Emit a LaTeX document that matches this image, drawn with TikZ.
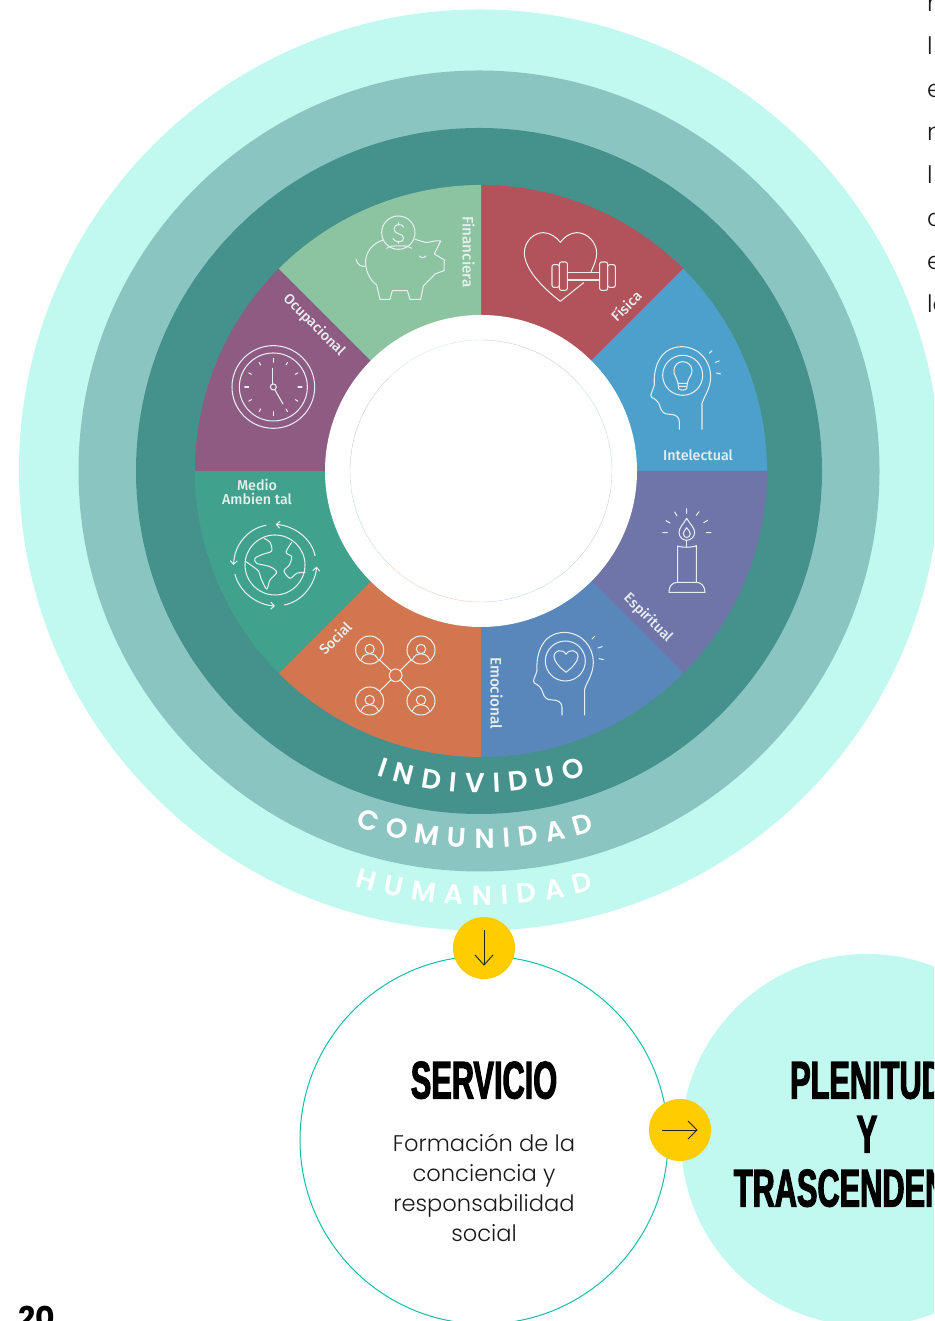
\documentclass[tikz,border=0pt]{standalone}
\usepackage{fontspec}
\usetikzlibrary{decorations.text,arrows.meta,calc}
\setmainfont{Poppins}
\newfontfamily\ringfont[UprightFont=* SemiBold]{Poppins}
\newfontfamily\lightfont[UprightFont=* Light]{Poppins}
\newfontfamily\labelfont[UprightFont=* Medium]{Fira Sans}
\newfontfamily\pagefont[UprightFont=* Bold]{Poppins}
\newfontfamily\titlefont[UprightFont=* Bold,FakeStretch=0.58,FakeBold=2]{Liberation Sans}
\definecolor{ringa}{HTML}{C1F9F0}
\definecolor{ringb}{HTML}{8BC5C2}
\definecolor{ringc}{HTML}{45918C}
\definecolor{wred}{HTML}{B2525A}
\definecolor{wblue}{HTML}{4DA0CB}
\definecolor{wviolet}{HTML}{7075A9}
\definecolor{wsteel}{HTML}{5A87BB}
\definecolor{worange}{HTML}{D1764F}
\definecolor{wgreen}{HTML}{40A28C}
\definecolor{wpurple}{HTML}{8E5B82}
\definecolor{wsage}{HTML}{8CC3A1}
\definecolor{iconc}{HTML}{E6EEEE}
\definecolor{yell}{HTML}{FFCC00}
\definecolor{tealline}{HTML}{12BFAA}
\definecolor{darkl}{HTML}{222222}
\tikzset{
  zoomat/.style 2 args={shift={(#1,1321-#2)},x=.33333pt,y=-.33333pt},
  px/.style={shift={(0,1321)},y=-1pt},
  icon/.style={draw=iconc,line width=1.05pt,line cap=round,line join=round},
  seglabel/.style={text=iconc,font=\labelfont\fontsize{14.3}{14.3}\selectfont,inner sep=0pt},
  seglong/.style={text=iconc,font=\labelfont\fontsize{15.2}{15.2}\selectfont,inner sep=0pt},
  title/.style={font=\titlefont\fontsize{53}{53}\selectfont,inner sep=0pt,anchor=base,text=black},
  body/.style={font=\lightfont\fontsize{22.6}{22.6}\selectfont,inner sep=0pt,anchor=base,text=black!90},
  edge/.style={font=\lightfont\fontsize{24}{24}\selectfont,inner sep=0pt,anchor=base west,text=black!90},
  arrowl/.style={draw=darkl,line width=.9pt,line join=miter},
}
\newcommand{\headshape}{%
  (598,748) -- (598,725) .. controls (598,710) and (585,703) .. (570,703)
  .. controls (550,703) and (545,695) .. (540,680)
  .. controls (535,665) and (530,660) .. (515,652)
  .. controls (508,645) and (518,635) .. (523,615)
  .. controls (520,570) and (535,502) .. (605,500)
  .. controls (660,502) and (692,545) .. (692,590)
  .. controls (692,625) and (672,650) .. (666,670) -- (666,748)
  (688,520) -- (696,512) (706,547) -- (718,543) (709,579) -- (722,582)
  (608,586) circle[radius=60]}
\newcommand{\person}[2]{%
  \draw[icon] (#1,#2) circle[radius=42];
  \draw[icon] (#1,#2-3) circle[radius=14];
  \draw[icon] (#1-26,#2+30) .. controls (#1-20,#2+15) and (#1-10,#2+11) .. (#1,#2+11) .. controls (#1+10,#2+11) and (#1+20,#2+15) .. (#1+26,#2+30);
}
\begin{document}
\begin{tikzpicture}[x=1pt,y=1pt]
\clip (0,0) rectangle (934,1321);
\fill[white] (0,0) rectangle (934,1321);

% Rings and wedges (y-up, origin at the centre)
\begin{scope}[shift={(481,850)}]
  \fill[ringa] (-1.5,1) circle[radius=460.5];
  \fill[ringb] (-2,0) circle[radius=400.5];
  \fill[ringc] (-2,0) circle[radius=343];
  \foreach \a/\c in {45/wred,0/wblue,-45/wviolet,-90/wsteel,-135/worange,-180/wgreen,135/wpurple,90/wsage}{
    \fill[\c] (0,0) -- (\a:286) arc[start angle=\a,delta angle=45,radius=286] -- cycle;
  }
  \fill[white] (0,0) circle[radius=156];
  \foreach \a/\c in {45/wred,0/wblue,-45/wviolet,-90/wsteel,-135/worange,-180/wgreen,135/wpurple,90/wsage}{
    \draw[\c!35,line width=.4pt] (\a:131) arc[start angle=\a,delta angle=45,radius=131];
  }
  \path[decorate,decoration={text along path,text align={fit to path},
     text={|\ringfont\fontsize{27.5}{27.5}\selectfont\color{white}|INDIVIDUO}}]
     (251:322) arc[start angle=251,end angle=289,radius=322];
  \path[decorate,decoration={text along path,text align={fit to path},
     text={|\ringfont\fontsize{27.5}{27.5}\selectfont\color{white}|COMUNIDAD}}]
     (250.6:377) arc[start angle=250.6,end angle=287.5,radius=377];
  \path[decorate,decoration={text along path,text align={fit to path},
     text={|\ringfont\fontsize{27.5}{27.5}\selectfont\color{white}|HUMANIDAD}}]
     (253.1:434) arc[start angle=253.1,end angle=285,radius=434];
\end{scope}

% Segment labels
\begin{scope}[px]
  \node[seglong,rotate=-90] (lfin) at (468.5,252) {Financiera};
  \node[seglabel,rotate=-45] (locu) at (314,325) {Ocupacional};
  \node[seglabel,rotate=45] (lfis) at (626,306) {Física};
  \node[seglabel] (lint) at (698,455) {Intelectual};
  \node[seglabel,rotate=-45] (lesp) at (648,618) {Espiritual};
  \node[seglong,rotate=-90] (lemo) at (496.5,693) {Emocional};
  \node[seglabel,rotate=45] (lsoc) at (335,638) {Social};
  \node[seglabel] (lmed) at (257,485) {Medio};
  \node[seglabel] (lamb) at (257,499) {Ambien tal};
\end{scope}

% Piggy bank and clock
\begin{scope}[zoomat={190}{180}]
  \draw[icon] (625,158) circle[radius=50];
  \draw[icon] (641,142) .. controls (638,130) and (612,130) .. (612,147)
     .. controls (612,165) and (641,158) .. (641,175)
     .. controls (641,190) and (612,188) .. (609,175)
     (625,128) -- (625,135) (625,183) -- (625,190);
  \draw[icon] (590,205) -- (600,199) .. controls (620,197) and (640,197) .. (652,199) -- (665,205);
  \draw[icon] (580,180) .. controls (545,190) and (525,220) .. (527,250)
     .. controls (528,280) and (545,305) .. (560,315)
     -- (570,358) -- (600,358) -- (607,332) -- (652,332) -- (660,358) -- (692,358) -- (700,318)
     -- (735,282) -- (762,272) -- (763,240) -- (733,222) -- (752,183)
     .. controls (730,180) and (715,190) .. (705,187) -- (675,178);
  \draw[icon] (498,238) .. controls (502,255) and (515,262) .. (527,258);
  \draw[icon] (688,228) .. controls (695,235) and (700,235) .. (708,228);
  % clock
  \coordinate (ck) at (250,621);
  \draw[icon] (ck) circle[radius=124];
  \draw[icon] (ck) circle[radius=102];
  \draw[icon] (ck) circle[radius=9];
  \foreach \a in {30,60,120,150,210,240,300,330}{
    \draw[icon] ($(ck)+(\a:76)$) -- ($(ck)+(\a:85)$);
  }
  \foreach \a in {0,90,180,270}{
    \draw[icon] ($(ck)+(\a:74)$) -- ($(ck)+(\a:86)$);
  }
  \draw[icon] (248,612) -- (248,565);
  \draw[icon] (255,630) -- (279,672);
\end{scope}

% Heart with dumbbell, and head with bulb
\begin{scope}[zoomat={480}{180}]
  \draw[icon] (333,275) .. controls (340,260) and (350,240) .. (350,220)
     .. controls (350,190) and (325,158) .. (290,158)
     .. controls (270,158) and (252,172) .. (241,187)
     .. controls (230,172) and (210,158) .. (190,158)
     .. controls (165,158) and (133,180) .. (133,220)
     .. controls (135,270) and (190,325) .. (241,364) -- (311,308);
  \draw[icon,rounded corners=2pt] (216,254) rectangle (238,322);
  \draw[icon,rounded corners=2pt] (238,246) rectangle (262,331);
  \draw[icon,rounded corners=2pt] (359,246) rectangle (383,331);
  \draw[icon,rounded corners=2pt] (383,254) rectangle (406,322);
  \draw[icon] (262,278) rectangle (359,300);
  \draw[icon] \headshape;
  \draw[icon] (594,610) .. controls (590,590) and (580,585) .. (582,570)
     .. controls (583,555) and (595,545) .. (608,545)
     .. controls (622,545) and (636,555) .. (636,572)
     .. controls (636,587) and (625,592) .. (622,610) -- cycle;
  \draw[icon] (594,610) -- (596,626) .. controls (600,632) and (616,632) .. (620,626) -- (622,610)
     (596,619) -- (620,619);
\end{scope}

% Earth and social network
\begin{scope}[zoomat={190}{465}]
  \draw[icon] (255,300) circle[radius=90];
  \draw[icon,-{Straight Barb[length=3.5pt,width=7pt]}] (228,181) .. controls (175,190) and (132,240) .. (131,300);
  \draw[icon,-{Straight Barb[length=3.5pt,width=7pt]}] (135,328) .. controls (148,380) and (200,420) .. (255,423);
  \draw[icon,-{Straight Barb[length=3.5pt,width=7pt]}] (283,420) .. controls (335,410) and (375,360) .. (380,305);
  \draw[icon,-{Straight Barb[length=3.5pt,width=7pt]}] (375,272) .. controls (365,222) and (315,183) .. (257,178);
  \draw[icon] plot[smooth] coordinates {(222,220) (240,232) (245,258) (218,268) (195,280) (200,295) (240,305) (260,322) (240,345) (230,372) (215,345) (205,318) (185,302) (168,290)};
  \draw[icon] plot[smooth] coordinates {(305,232) (288,262) (305,275) (298,300) (282,318) (300,340) (320,325) (345,322)};
  \person{539}{555}
  \person{693}{555}
  \person{539}{708}
  \person{693}{708}
  \draw[icon] (617,631) circle[radius=19];
  \draw[icon] (603,617) -- (569,585) (631,617) -- (663,585) (603,645) -- (569,678) (631,645) -- (663,678);
\end{scope}

% Candle and head with heart
\begin{scope}[zoomat={480}{465}]
  \draw[icon] (620,131) -- (620,145) (584,141) -- (591,153) (558,167) -- (570,174) (548,203) -- (562,203)
     (649,151) -- (657,140) (671,173) -- (683,166) (679,203) -- (693,203);
  \draw[icon] (620,160) .. controls (610,178) and (597,188) .. (597,203)
     .. controls (597,215) and (608,226) .. (620,226)
     .. controls (632,226) and (644,215) .. (644,203)
     .. controls (644,188) and (630,178) .. (620,160) -- cycle;
  \draw[icon] (620,188) .. controls (615,196) and (610,200) .. (610,206)
     .. controls (610,212) and (615,218) .. (620,218)
     .. controls (625,218) and (631,212) .. (631,206)
     .. controls (631,200) and (625,196) .. (620,188) -- cycle;
  \draw[icon] (620,226) -- (620,248);
  \draw[icon] (593,352) -- (593,243) .. controls (602,248) and (640,248) .. (649,242) -- (649,352);
  \draw[icon] (567,382) -- (675,382) .. controls (675,365) and (665,352) .. (649,352) -- (593,352)
     .. controls (575,352) and (567,365) .. (567,382);
  \begin{scope}[xshift=-117.33pt,yshift=-.67pt]
    \draw[icon] \headshape;
  \end{scope}
  \draw[icon] (258,622) .. controls (240,608) and (222,590) .. (222,575)
     .. controls (222,555) and (248,550) .. (258,568)
     .. controls (268,550) and (294,555) .. (294,575)
     .. controls (294,590) and (276,608) .. (258,622);
\end{scope}

% Lower part
\begin{scope}[px]
  \node[draw=tealline,line width=1pt,circle,minimum size=368pt,inner sep=0pt] (serv) at (484,1140) {};
  \node[fill=ringa,circle,minimum size=372pt,inner sep=0pt] (plen) at (867,1140) {};
  \node[fill=yell,circle,minimum size=62pt,inner sep=0pt] (ydown) at (484,948) {};
  \node[fill=yell,circle,minimum size=62pt,inner sep=0pt] (yright) at (680,1130) {};
  \draw[arrowl] ($(ydown)+(0,-18)$) -- ($(ydown)+(0,17)$) coordinate (dtip);
  \draw[arrowl] ($(dtip)+(-9,-10)$) -- (dtip) -- ($(dtip)+(9,-10)$);
  \draw[arrowl] ($(yright)+(-18,0)$) -- ($(yright)+(17,0)$) coordinate (rtip);
  \draw[arrowl] ($(rtip)+(-9,-9)$) -- (rtip) -- ($(rtip)+(-9,9)$);
  \node[title] (tserv) at (484,1098.5) {SERVICIO};
  \node[body] (b1) at (484,1152) {Formación de la};
  \node[body] (b2) at (484,1182) {conciencia y};
  \node[body] (b3) at (484,1212) {responsabilidad};
  \node[body] (b4) at (484,1242) {social};
  \node[title] (tp1) at (867,1098.5) {PLENITUD};
  \node[title] (tp2) at (867,1152.5) {Y};
  \node[title] (tp3) at (867,1206.5) {TRASCENDENCIA};
  \foreach \t/\y in {n/12,l/55,e/98,n/141,l/184,c/227,e/270,lo/313}{
    \node[edge] at (927,\y) {\t};
  }
  \node[font=\pagefont\fontsize{30}{30}\selectfont,inner sep=0pt,anchor=base west] (pagen) at (18,1328) {20};
\end{scope}
\end{tikzpicture}
\end{document}
